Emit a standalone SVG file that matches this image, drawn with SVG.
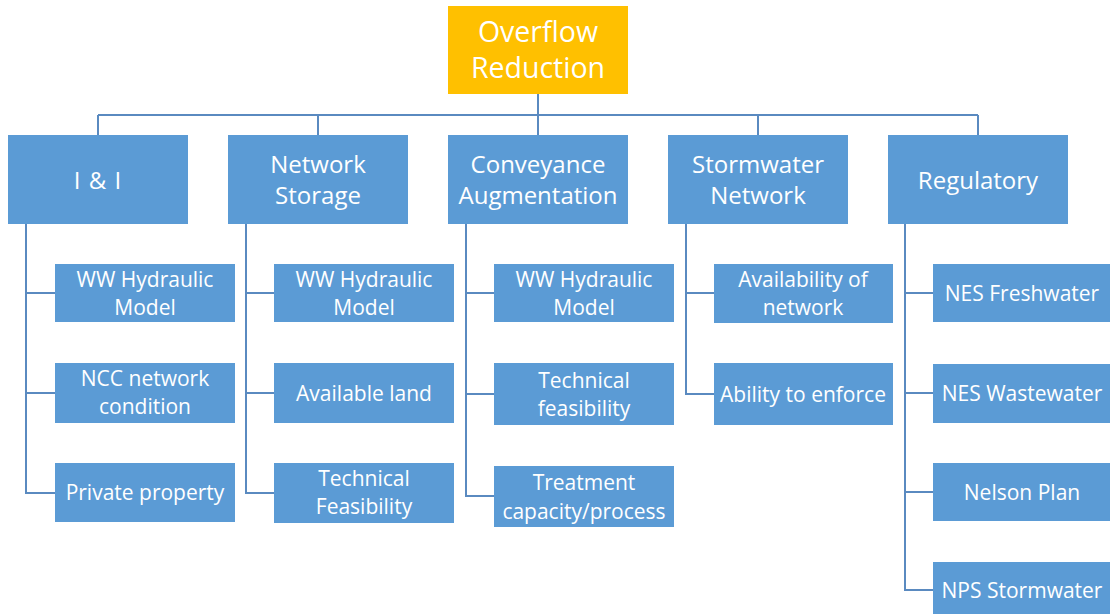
<svg xmlns="http://www.w3.org/2000/svg" width="1110" height="614" viewBox="0 0 1110 614">
<style>
.top{fill:#FFC000}
.b{fill:#5B9BD5}
.t{fill:#fff;font-family:"Open Sans",Lato,sans-serif;text-anchor:middle}
.t0{font-size:28.5px}
.t1{font-size:24px}
.t2{font-size:21px}
.c{fill:none;stroke:#5A8AC0;stroke-width:2}
</style>
<rect width="1110" height="614" fill="#fff"/>
<g id="connectors" class="c">
<path d="M538 94V115M98 115H978M98 115V135M318 115V135M538 115V135M758 115V135M978 115V135"/>
<path d="M26 224V493H55M26 293H55M26 393H55"/>
<path d="M246 224V493H274M246 293H274M246 393H274"/>
<path d="M466 224V496H494M466 293H494M466 394H494"/>
<path d="M686 224V394H714M686 293H714"/>
<path d="M905 224V590H933M905 293H933M905 393H933M905 492H933"/>
</g>
<g id="n0"><rect class="top" x="448" y="6" width="180" height="88"/><text class="t t0" x="538" y="42">Overflow</text><text class="t t0" x="538" y="78">Reduction</text></g>
<g id="n1"><rect class="b" x="8" y="135" width="180" height="89"/><text class="t t1" x="98" y="189" letter-spacing="1">I &amp; I</text></g>
<g id="n2"><rect class="b" x="228" y="135" width="180" height="89"/><text class="t t1" x="318" y="173">Network</text><text class="t t1" x="318" y="204">Storage</text></g>
<g id="n3"><rect class="b" x="448" y="135" width="180" height="89"/><text class="t t1" x="538" y="173">Conveyance</text><text class="t t1" x="538" y="204">Augmentation</text></g>
<g id="n4"><rect class="b" x="668" y="135" width="180" height="89"/><text class="t t1" x="758" y="173">Stormwater</text><text class="t t1" x="758" y="204">Network</text></g>
<g id="n5"><rect class="b" x="888" y="135" width="180" height="89"/><text class="t t1" x="978" y="189">Regulatory</text></g>
<g id="n1a"><rect class="b" x="55" y="264" width="180" height="58"/><text class="t t2" x="145" y="287">WW Hydraulic</text><text class="t t2" x="145" y="315">Model</text></g>
<g id="n1b"><rect class="b" x="55" y="363" width="180" height="60"/><text class="t t2" x="145" y="386">NCC network</text><text class="t t2" x="145" y="414">condition</text></g>
<g id="n1c"><rect class="b" x="55" y="463" width="180" height="59"/><text class="t t2" x="145" y="500">Private property</text></g>
<g id="n2a"><rect class="b" x="274" y="264" width="180" height="58"/><text class="t t2" x="364" y="287">WW Hydraulic</text><text class="t t2" x="364" y="315">Model</text></g>
<g id="n2b"><rect class="b" x="274" y="363" width="180" height="60"/><text class="t t2" x="364" y="401">Available land</text></g>
<g id="n2c"><rect class="b" x="274" y="463" width="180" height="60"/><text class="t t2" x="364" y="486">Technical</text><text class="t t2" x="364" y="514">Feasibility</text></g>
<g id="n3a"><rect class="b" x="494" y="264" width="180" height="58"/><text class="t t2" x="584" y="287">WW Hydraulic</text><text class="t t2" x="584" y="315">Model</text></g>
<g id="n3b"><rect class="b" x="494" y="363" width="180" height="62"/><text class="t t2" x="584" y="388">Technical</text><text class="t t2" x="584" y="416">feasibility</text></g>
<g id="n3c"><rect class="b" x="494" y="466" width="180" height="61"/><text class="t t2" x="584" y="490">Treatment</text><text class="t t2" x="584" y="519">capacity/process</text></g>
<g id="n4a"><rect class="b" x="714" y="264" width="179" height="59"/><text class="t t2" x="803" y="287">Availability of</text><text class="t t2" x="803" y="315">network</text></g>
<g id="n4b"><rect class="b" x="714" y="363" width="179" height="62"/><text class="t t2" x="803" y="402">Ability to enforce</text></g>
<g id="n5a"><rect class="b" x="933" y="264" width="180" height="58"/><text class="t t2" x="1022" y="301">NES Freshwater</text></g>
<g id="n5b"><rect class="b" x="933" y="364" width="180" height="59"/><text class="t t2" x="1022" y="401">NES Wastewater</text></g>
<g id="n5c"><rect class="b" x="933" y="463" width="180" height="58"/><text class="t t2" x="1022" y="500">Nelson Plan</text></g>
<g id="n5d"><rect class="b" x="933" y="562" width="180" height="60"/><text class="t t2" x="1022" y="598">NPS Stormwater</text></g>
</svg>
